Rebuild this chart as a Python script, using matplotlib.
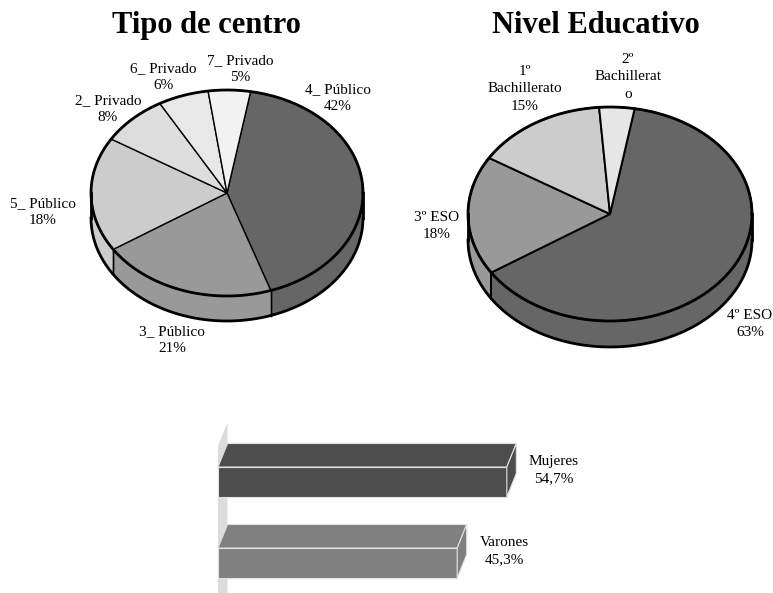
import numpy as np
import matplotlib.pyplot as plt
from matplotlib.patches import Polygon
from matplotlib.transforms import Affine2D

plt.rcParams['font.family'] = ['Liberation Serif', 'DejaVu Serif']

W, H = 773, 593

# data
centro_labels = ['4_ Público', '3_ Público', '5_ Público', '2_ Privado', '6_ Privado', '7_ Privado']
centro_pct = [42, 21, 18, 8, 6, 5]
centro_colors = ['#666666', '#999999', '#cccccc', '#dddddd', '#e8e8e8', '#f2f2f2']

nivel_labels = ['4º ESO', '3º ESO', '1º\nBachillerato', '2º\nBachillerat\no']
nivel_pct = [63, 18, 15, 4]
nivel_show_pct = [True, True, True, False]
nivel_colors = ['#666666', '#999999', '#cccccc', '#e6e6e6']

sexo_labels = ['Mujeres', 'Varones']
sexo_pct = [54.7, 45.3]
sexo_colors = ['#4d4d4d', '#808080']

# label positions (pixels)
centro_text_px = [(338, 98), (172, 340), (43, 212), (108, 109), (163, 77), (240, 69)]
nivel_text_px = [(750, 324), (437, 226), (525, 89), (628, 77)]

fig = plt.figure(figsize=(W / 100, H / 100), dpi=100)


def px_axes(x0, y0, x1, y1):
    ax = fig.add_axes([x0 / W, 1 - y1 / H, (x1 - x0) / W, (y1 - y0) / H])
    ax.set_axis_off()
    return ax


def pie3d(box, cx, cy, rx, ry, depth, values, colors, texts, text_px, lw_in):
    ax = px_axes(*box)
    k = ry / rx
    d = depth / rx
    wedges, _ = ax.pie(values, startangle=80, counterclock=False, colors=colors,
                       wedgeprops=dict(edgecolor='black', linewidth=lw_in, zorder=2))
    ax.set_aspect('auto')
    x0, y0, x1, y1 = box
    ax.set_xlim((x0 - cx) / rx, (x1 - cx) / rx)
    ax.set_ylim((cy - y1) / rx, (cy - y0) / rx)
    squash = Affine2D().scale(1, k) + ax.transData
    for w in wedges:
        w.set_transform(squash)
        t1, t2 = w.theta1, w.theta2
        for lo, hi in [(-540, -360), (-180, 0), (180, 360)]:
            a, b = max(t1, lo), min(t2, hi)
            if b <= a:
                continue
            t = np.radians(np.linspace(a, b, 120))
            xs = np.cos(t)
            yt = k * np.sin(t)
            ax.fill(np.concatenate([xs, xs[::-1]]), np.concatenate([yt, yt[::-1] - d]),
                    color=w.get_facecolor(), lw=0, zorder=1)
            for e in (a, b):
                if e not in (lo, hi):
                    r = np.radians(e)
                    ax.plot([np.cos(r)] * 2, [k * np.sin(r), k * np.sin(r) - d],
                            color='black', lw=lw_in, zorder=1.5)
    t = np.linspace(0, 2 * np.pi, 400)
    ax.plot(np.cos(t), k * np.sin(t), color='black', lw=2, zorder=3)
    t = np.linspace(np.pi, 2 * np.pi, 200)
    ax.plot(np.cos(t), k * np.sin(t) - d, color='black', lw=2, zorder=3)
    ax.plot([-1, -1], [0, -d], color='black', lw=2, zorder=3)
    ax.plot([1, 1], [0, -d], color='black', lw=2, zorder=3)
    for txt, (px, py) in zip(texts, text_px):
        ax.text((px - cx) / rx, (cy - py) / rx, txt, ha='center', va='center',
                fontsize=11, linespacing=1.45)
    return ax


centro_texts = [f'{l}\n{v}%' for l, v in zip(centro_labels, centro_pct)]
pie3d((0, 40, 390, 370), 227, 193, 136, 103, 25, centro_pct, centro_colors,
      centro_texts, centro_text_px, 1.0)

nivel_texts = [f'{l}\n{v}%' if s else l for l, v, s in zip(nivel_labels, nivel_pct, nivel_show_pct)]
pie3d((390, 40, 773, 370), 610, 214, 142, 107, 26, nivel_pct, nivel_colors,
      nivel_texts, nivel_text_px, 1.4)

fig.text(206 / W, 1 - 33 / H, 'Tipo de centro', ha='center', va='baseline',
         fontsize=22, fontweight='bold')
fig.text(596 / W, 1 - 33 / H, 'Nivel Educativo', ha='center', va='baseline',
         fontsize=22, fontweight='bold')

# 3D bars
ax = px_axes(200, 400, 773, 593)
sx, sy = 5.28, 81.0
ax.set_xlim((200 - 218) / sx, (773 - 218) / sx)
ax.set_ylim(-(593 - 563) / sy, 1 + (482 - 400) / sy)
ddx, ddy = 9.5 / sx, 23.5 / sy

ypos = np.arange(len(sexo_labels))[::-1]
bars = ax.barh(ypos, sexo_pct, height=30 / sy, color=sexo_colors,
               edgecolor='#e0e0e0', linewidth=0.8, zorder=2)

wall_top = 1 + (482 - 446) / sy
ax.add_patch(Polygon([(0, -1), (0, wall_top), (ddx, wall_top + ddy), (ddx, -1 + ddy)],
                     closed=True, color='#dcdcdc', lw=0, zorder=0))

for b, lab, v, c in zip(bars, sexo_labels, sexo_pct, sexo_colors):
    x, y, w, h = b.get_x(), b.get_y(), b.get_width(), b.get_height()
    ax.add_patch(Polygon([(x, y + h), (x + w, y + h), (x + w + ddx, y + h + ddy), (x + ddx, y + h + ddy)],
                         closed=True, facecolor=c, edgecolor='#e0e0e0', lw=0.8, zorder=2))
    ax.add_patch(Polygon([(x + w, y), (x + w + ddx, y + ddy), (x + w + ddx, y + h + ddy), (x + w, y + h)],
                         closed=True, facecolor=c, edgecolor='#e0e0e0', lw=0.8, zorder=2))
    ax.text(x + w + 8.9, y + h / 2 + 0.15, f'{lab}\n{v:.1f}%'.replace('.', ','),
            ha='center', va='center', fontsize=11, linespacing=1.45)

fig.savefig('out.png', dpi=100)
